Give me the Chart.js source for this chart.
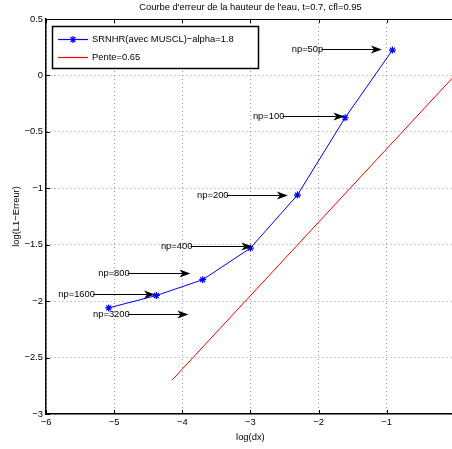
<!DOCTYPE html>
<html>
<head>
<meta charset="utf-8">
<script src="https://cdn.jsdelivr.net/npm/chart.js@4.4.1/dist/chart.umd.min.js"></script>
<style>
  html, body { margin: 0; padding: 0; background: #fff; overflow: hidden; }
  #wrap { width: 460px; height: 449px; }
</style>
</head>
<body>
<div id="wrap"><canvas id="chart" width="460" height="449"></canvas></div>
<script>
// Data
const logDx = [-5.08, -4.38, -3.70, -3.00, -2.31, -1.61, -0.915];
const logErr = [-2.06, -1.95, -1.81, -1.53, -1.06, -0.375, 0.225];
const slopeX = [-4.15, 0];
const slopeY = [-2.70, 0];

// Arrow annotations (data units)
const annLabels = ['np=50p', 'np=100', 'np=200', 'np=400', 'np=800', 'np=1600', 'np=3200'];
const annTailX = [-1.96, -2.53, -3.35, -3.88, -4.80, -5.31, -4.80];
const annTipX = [-1.07, -1.62, -2.45, -2.97, -3.88, -4.40, -3.91];
const annY = [0.23, -0.36, -1.06, -1.51, -1.75, -1.94, -2.11];

const xTicks = [-6, -5, -4, -3, -2, -1, 0];
const yTicks = [0.5, 0, -0.5, -1, -1.5, -2, -2.5, -3];

const BLUE = '#0000ff';
const RED = '#ff0000';
const FONT = 'Liberation Sans, Arial, Helvetica, sans-serif';
const FSIZE = 9.4;
const fmt = v => String(v).replace('-', '\u2212');

const decor = {
    id: 'decor',
    afterDatasetsDraw(chart) {
        const { ctx, chartArea: a, scales: { x, y } } = chart;
        ctx.save();

        // box top line + inward ticks
        ctx.strokeStyle = '#000';
        ctx.lineWidth = 1;
        ctx.beginPath();
        ctx.moveTo(a.left, a.top + 0.5);
        ctx.lineTo(a.right + 5, a.top + 0.5);
        xTicks.forEach(v => {
            const px = Math.round(x.getPixelForValue(v)) + 0.5;
            ctx.moveTo(px, a.bottom); ctx.lineTo(px, a.bottom - 4);
            ctx.moveTo(px, a.top); ctx.lineTo(px, a.top + 4);
        });
        yTicks.forEach(v => {
            const py = Math.round(y.getPixelForValue(v)) + 0.5;
            ctx.moveTo(a.left, py); ctx.lineTo(a.left + 4, py);
        });
        ctx.stroke();

        // arrows
        ctx.fillStyle = '#000';
        ctx.font = FSIZE + 'px ' + FONT;
        ctx.textBaseline = 'middle';
        annLabels.forEach((lab, i) => {
            const x0 = x.getPixelForValue(annTailX[i]);
            const x1 = x.getPixelForValue(annTipX[i]);
            const py = Math.round(y.getPixelForValue(annY[i])) + 0.5;
            ctx.beginPath();
            ctx.moveTo(x0, py);
            ctx.lineTo(x1 - 8, py);
            ctx.stroke();
            ctx.beginPath();
            ctx.moveTo(x1, py);
            ctx.lineTo(x1 - 11, py - 4);
            ctx.lineTo(x1 - 8, py);
            ctx.lineTo(x1 - 11, py + 4);
            ctx.closePath();
            ctx.fill();
            ctx.textAlign = 'right';
            ctx.fillText(lab, x0 + 2, py);
        });

        // legend
        const lx = 52.5, ly = 26.5, lw = 206, lh = 42;
        ctx.fillStyle = '#fff';
        ctx.fillRect(lx, ly, lw, lh);
        ctx.strokeStyle = '#000';
        ctx.lineWidth = 1.5;
        ctx.strokeRect(lx, ly, lw, lh);
        ctx.textAlign = 'left';
        const legendColors = [BLUE, RED];
        chart.data.datasets.forEach((ds, i) => {
            const ry = [39, 57][i] + 0.5;
            ctx.strokeStyle = legendColors[i];
            ctx.lineWidth = 1.2;
            ctx.beginPath();
            ctx.moveTo(58, ry); ctx.lineTo(88, ry);
            ctx.stroke();
            if (i === 0) {
                ctx.beginPath();
                const cx = 73, r = 3.5;
                for (let k = 0; k < 4; k++) {
                    const ang = k * Math.PI / 4;
                    ctx.moveTo(cx - r * Math.cos(ang), ry - r * Math.sin(ang));
                    ctx.lineTo(cx + r * Math.cos(ang), ry + r * Math.sin(ang));
                }
                ctx.stroke();
            }
            ctx.fillStyle = '#000';
            ctx.fillText(ds.label, 92, ry);
        });

        // title and axis titles
        ctx.textAlign = 'center';
        ctx.fillText("Courbe d'erreur de la hauteur de l'eau, t=0.7, cfl=0.95", (a.left + a.right) / 2, 7);
        ctx.fillText('log(dx)', (a.left + a.right) / 2, 437);
        ctx.translate(16, (a.top + a.bottom) / 2);
        ctx.rotate(-Math.PI / 2);
        ctx.fillText('log(L1\u2212Erreur)', 0, 0);
        ctx.restore();
    }
};

new Chart(document.getElementById('chart'), {
    type: 'line',
    data: {
        datasets: [
            {
                label: 'SRNHR(avec MUSCL)\u2212alpha=1.8',
                data: logDx.map((v, i) => ({ x: v, y: logErr[i] })),
                borderColor: BLUE,
                backgroundColor: BLUE,
                borderWidth: 1,
                pointStyle: 'star',
                pointRadius: 3.5,
                pointBorderWidth: 1.2,
                tension: 0
            },
            {
                label: 'Pente=0.65',
                data: slopeX.map((v, i) => ({ x: v, y: slopeY[i] })),
                borderColor: RED,
                borderWidth: 1,
                pointRadius: 0,
                tension: 0
            }
        ]
    },
    options: {
        responsive: false,
        animation: false,
        layout: { padding: { top: 19, right: 4, left: 0, bottom: 0 } },
        plugins: { legend: { display: false }, title: { display: false }, tooltip: { enabled: false } },
        scales: {
            x: {
                type: 'linear',
                min: -6, max: 0,
                afterBuildTicks: s => { s.ticks = xTicks.map(v => ({ value: v })); },
                afterFit: s => { s.height = 35; },
                ticks: { color: '#000', font: { size: FSIZE, family: FONT }, padding: 3, maxRotation: 0,
                    callback: v => v === 0 ? '' : fmt(v) },
                grid: { color: '#999', lineWidth: 1, drawTicks: false },
                border: { color: '#000', width: 1.5, dash: [1, 3] }
            },
            y: {
                type: 'linear',
                min: -3, max: 0.5,
                afterBuildTicks: s => { s.ticks = yTicks.map(v => ({ value: v })); },
                afterFit: s => { s.width = 46; },
                ticks: { color: '#000', font: { size: FSIZE, family: FONT }, padding: 3,
                    callback: v => fmt(v) },
                grid: { color: '#999', lineWidth: 1, drawTicks: false },
                border: { color: '#000', width: 1.5, dash: [1, 3] }
            }
        }
    },
    plugins: [decor]
});
</script>
</body>
</html>
